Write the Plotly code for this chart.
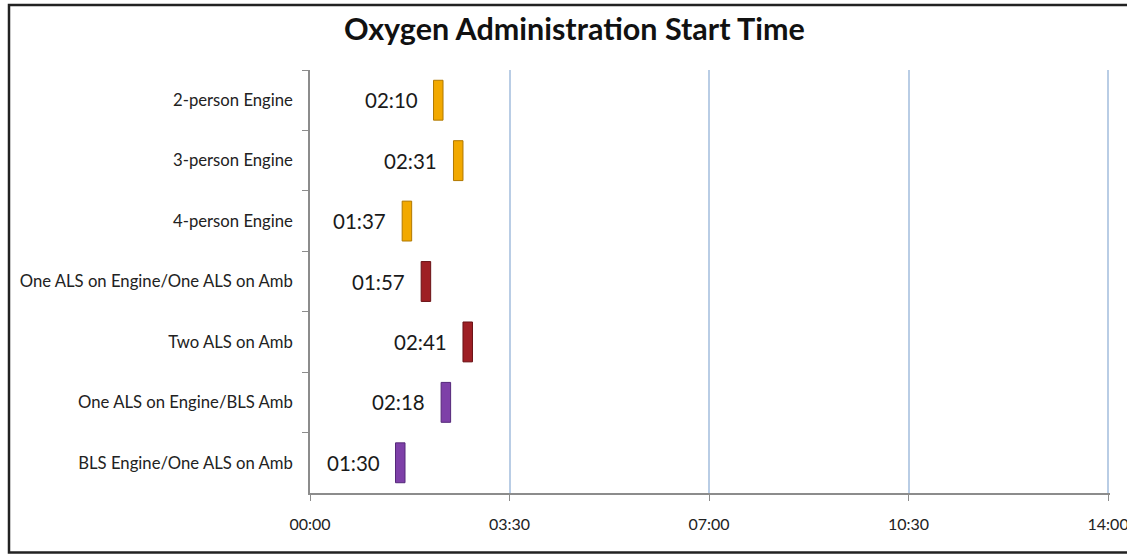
import plotly.graph_objects as go

categories = [
    "2-person Engine",
    "3-person Engine",
    "4-person Engine",
    "One ALS on Engine/One ALS on Amb",
    "Two ALS on Amb",
    "One ALS on Engine/BLS Amb",
    "BLS Engine/One ALS on Amb",
]
start_seconds = [130, 151, 97, 117, 161, 138, 90]
tick_seconds = [0, 210, 420, 630, 840]
tick_labels = ["00:00", "03:30", "07:00", "10:30", "14:00"]

bar_colors = ["#F2A900", "#F2A900", "#F2A900", "#9E1F24", "#9E1F24", "#7E40A8", "#7E40A8"]
edge_colors = ["#B07800", "#B07800", "#B07800", "#6A1216", "#6A1216", "#55287A", "#55287A"]
marker_len = 10  # visible segment length (seconds)

FONT = "Lato, Open Sans, sans-serif"


def fmt(s):
    return f"{s // 60:02d}:{s % 60:02d}"


fig = go.Figure()
fig.add_trace(go.Bar(
    y=categories,
    x=[marker_len] * len(categories),
    base=start_seconds,
    orientation="h",
    width=0.66,
    marker=dict(color=bar_colors, line=dict(color=edge_colors, width=1)),
    hoverinfo="skip",
    showlegend=False,
))

annotations = []
for c, s in zip(categories, start_seconds):
    annotations.append(dict(
        x=s, y=c, xref="x", yref="y", text=fmt(s), showarrow=False,
        xanchor="right", yanchor="middle", xshift=-14,
        font=dict(family=FONT, size=20.5, color="#1a1a1a"),
    ))

annotations.append(dict(
    text="<b>Oxygen Administration Start Time</b>", xref="paper", yref="paper",
    x=(574 - 310) / 800, y=(493 - 28) / 423, xanchor="center", yanchor="middle",
    showarrow=False, font=dict(family=FONT, size=30.5, color="#111111"),
))

fig.update_layout(
    width=1127, height=554,
    margin=dict(l=310, r=17, t=70, b=61, autoexpand=False),
    paper_bgcolor="white", plot_bgcolor="white",
    annotations=annotations,
    shapes=[dict(
        type="rect", xref="paper", yref="paper",
        x0=(9 - 310) / 800, x1=1.2, y0=(493 - 552.5) / 423, y1=(493 - 5) / 423,
        line=dict(color="#222222", width=2.5), fillcolor="rgba(0,0,0,0)", layer="below",
    )],
    xaxis=dict(
        range=[0, 842], tickvals=tick_seconds, ticktext=tick_labels,
        showgrid=True, gridcolor="#B9CDE5", gridwidth=1.5,
        showline=True, linecolor="#8C8C8C", linewidth=1.5,
        ticks="outside", ticklen=6, tickcolor="#8C8C8C",
        zeroline=False, fixedrange=True, automargin=False,
        ticklabeloverflow="allow",
        tickfont=dict(family=FONT, size=16, color="#222222"),
        ticklabelstandoff=10,
    ),
    yaxis=dict(
        autorange="reversed", showgrid=False, automargin=False,
        showline=True, linecolor="#8C8C8C", linewidth=1.5,
        ticks="outside", ticklen=6, tickcolor="#8C8C8C", tickson="boundaries",
        tickfont=dict(family=FONT, size=16.7, color="#222222"),
        ticklabelstandoff=12,
    ),
)

fig.write_html("out.html")
